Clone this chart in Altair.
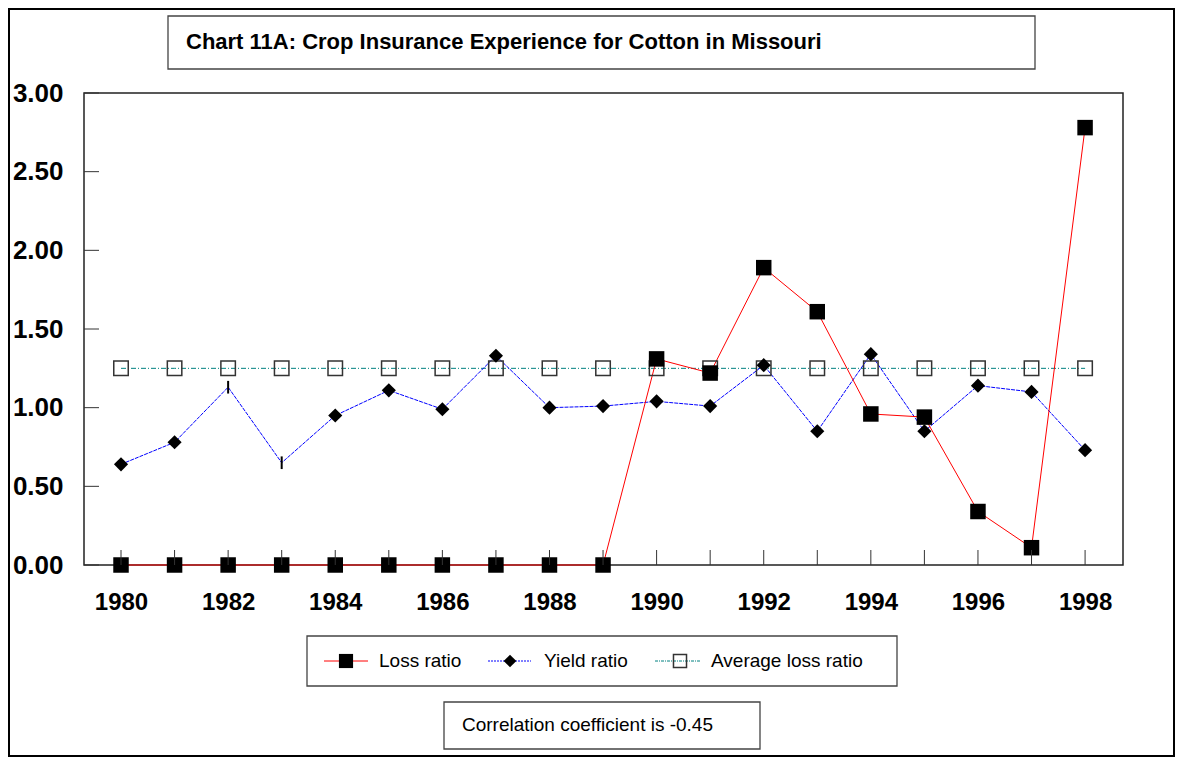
import altair as alt
import pandas as pd

# ---------------- data ----------------
years = [1980, 1981, 1982, 1983, 1984, 1985, 1986, 1987, 1988, 1989,
         1990, 1991, 1992, 1993, 1994, 1995, 1996, 1997, 1998]
loss_ratio = [0.00, 0.00, 0.00, 0.00, 0.00, 0.00, 0.00, 0.00, 0.00, 0.00,
              1.31, 1.22, 1.89, 1.61, 0.96, 0.94, 0.34, 0.11, 2.78]
yield_ratio = [0.64, 0.78, 1.13, 0.65, 0.95, 1.11, 0.99, 1.33, 1.00, 1.01,
               1.04, 1.01, 1.27, 0.85, 1.34, 0.85, 1.14, 1.10, 0.73]
average_loss_ratio = [1.25, 1.25, 1.25, 1.25, 1.25, 1.25, 1.25, 1.25, 1.25, 1.25,
                      1.25, 1.25, 1.25, 1.25, 1.25, 1.25, 1.25, 1.25, 1.25]
yield_no_marker_years = [1982, 1983]
y_tick_values = [0.0, 0.5, 1.0, 1.5, 2.0, 2.5, 3.0]
x_label_years = [1980, 1982, 1984, 1986, 1988, 1990, 1992, 1994, 1996, 1998]
series_names = ["Loss ratio", "Yield ratio", "Average loss ratio"]
title_text = "Chart 11A: Crop Insurance Experience for Cotton in Missouri"
note_text = "Correlation coefficient is -0.45"

FONT = "Arial, Liberation Sans, sans-serif"
W, H = 1039, 472
PAD = {"left": 76, "top": 85, "right": 52, "bottom": 192}

df = pd.DataFrame({"year": years, "loss": loss_ratio, "yld": yield_ratio,
                   "avg": average_loss_ratio})
df["has_marker"] = ~df["year"].isin(yield_no_marker_years)

xs = alt.Scale(domain=[1979.309, 1998.708], nice=False, zero=False)
ys = alt.Scale(domain=[0, 3], nice=False, zero=True)

x_axis = alt.Axis(values=x_label_years, format="d", labelFontSize=24,
                  labelFontWeight="bold", labelPadding=25, ticks=False,
                  domain=False, grid=False, title=None, labelFlush=False,
                  labelOverlap=False)
y_axis = alt.Axis(values=y_tick_values, format=".2f", labelFontSize=26,
                  labelFontWeight="bold", labelPadding=21, ticks=False,
                  domain=False, grid=False, title=None, labelOverlap=False)

X = alt.X("year:Q", scale=xs, axis=x_axis)


def Y(field):
    return alt.Y(field, scale=ys, axis=y_axis)


def one():
    return pd.DataFrame({"k": [0]})


def box(x0, y0, x1, y1, color="#444", sw=1.3):
    return alt.Chart(one()).mark_rect(fill="transparent", stroke=color, strokeWidth=sw).encode(
        x=alt.value(x0), x2=alt.value(x1), y=alt.value(y0), y2=alt.value(y1))


def label(txt, x, y, size, weight="normal"):
    return alt.Chart(one()).mark_text(text=txt, align="left", baseline="middle",
                                      fontSize=size, fontWeight=weight, font=FONT,
                                      color="black").encode(
        x=alt.value(x), y=alt.value(y))


# frame, title box, legend box, note box (plot coords = page - (84, 93))
frame = box(-75, -84, W + PAD["right"] - 1, H + PAD["bottom"] - 1, color="black", sw=2)
title_box = box(84, -77, 951, -24)
title = label(title_text, 102, -51, 22, "bold")
legend_box = box(223, 543, 813, 593)
note_box = box(360, 609, 676, 656)
note = label(note_text, 378, 632, 19)

# ---------------- data layers ----------------
base = alt.Chart(df)

x_ticks = base.mark_rule(color="#333", strokeWidth=1).encode(
    x=X, y=alt.value(H - 15), y2=alt.value(H))
y_ticks = alt.Chart(pd.DataFrame({"v": y_tick_values})).mark_rule(
    color="#333", strokeWidth=1).encode(
    y=Y("v:Q"), x=alt.value(0), x2=alt.value(15))

avg_line = base.mark_line(color="#008080", strokeWidth=1, strokeDash=[5, 2, 1, 2]).encode(
    x=X, y=Y("avg:Q"))
avg_pts = base.mark_point(shape="square", filled=False, color="#333", strokeWidth=1.5,
                          size=210, opacity=1).encode(x=X, y=Y("avg:Q"))

yld_line = base.mark_line(color="#0000FF", strokeWidth=1, strokeDash=[4, 1]).encode(
    x=X, y=Y("yld:Q"))
yld_pts = base.transform_filter("datum.has_marker").mark_point(
    shape="diamond", filled=True, color="black", size=200, opacity=1).encode(
    x=X, y=Y("yld:Q"))
yld_bars = base.transform_filter("!datum.has_marker").mark_point(
    shape="M0,-1L0,1", filled=False, color="black", strokeWidth=2, size=160,
    opacity=1).encode(x=X, y=Y("yld:Q"))

loss_line = base.mark_line(color="#FF0000", strokeWidth=1).encode(
    x=X, y=Y("loss:Q"))
loss_pts = base.mark_point(shape="square", filled=True, color="black", size=240,
                           opacity=1).encode(x=X, y=Y("loss:Q"))

# ---------------- legend ----------------
LY = 568


def leg_line(x0, x1, color, dash=None):
    kw = dict(color=color, strokeWidth=1)
    if dash:
        kw["strokeDash"] = dash
    return alt.Chart(one()).mark_rule(**kw).encode(
        x=alt.value(x0), x2=alt.value(x1), y=alt.value(LY))


def leg_pt(x, shape, filled, size, sw=1.5):
    return alt.Chart(one()).mark_point(shape=shape, filled=filled,
                                       color="black" if filled else "#333",
                                       size=size, opacity=1, strokeWidth=sw).encode(
        x=alt.value(x), y=alt.value(LY))


legend = [
    leg_line(240, 284, "#FF0000"), leg_pt(262, "square", True, 200),
    label(series_names[0], 295, LY, 19),
    leg_line(404, 447, "#0000FF", [2, 1]), leg_pt(426, "diamond", True, 160),
    label(series_names[1], 460, LY, 19),
    leg_line(571, 617, "#008080", [3, 1, 1, 1]), leg_pt(596, "square", False, 170),
    label(series_names[2], 627, LY, 19),
]

chart = alt.layer(
    frame, title_box, title, legend_box, note_box, note,
    avg_line, yld_line, loss_line,
    avg_pts, loss_pts, yld_pts, yld_bars,
    x_ticks, y_ticks,
    *legend,
).properties(
    width=W, height=H,
    autosize=alt.AutoSizeParams(type="none"),
    padding=PAD,
).configure_view(
    stroke="#222", strokeWidth=1.5
).configure_axis(
    labelFont=FONT, labelColor="black"
)

chart.save("out.html", embed_options={"renderer": "svg", "actions": False})
